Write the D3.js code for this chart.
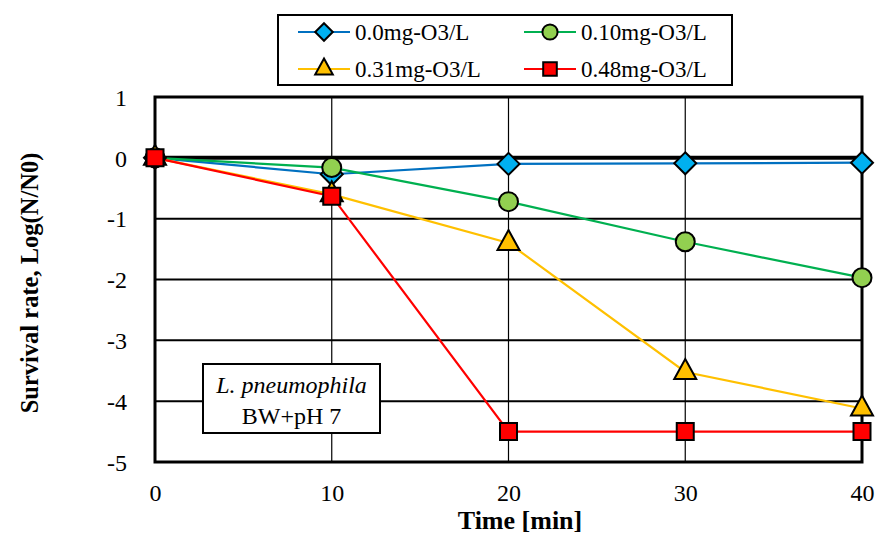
<!DOCTYPE html>
<html>
<head>
<meta charset="utf-8">
<script src="https://cdn.jsdelivr.net/npm/d3@7"></script>
<style>
  body { margin: 0; background: #fff; }
  text { font-family: "Liberation Serif", "Times New Roman", serif; }
</style>
</head>
<body>
<div id="chart"></div>
<script>
// data
const times = [0, 10, 20, 30, 40];
const s00 = [0, -0.27, -0.10, -0.09, -0.08];
const s10 = [0, -0.16, -0.72, -1.38, -1.97];
const s31 = [0, -0.60, -1.40, -3.52, -4.12];
const s48 = [0, -0.63, -4.50, -4.50, -4.50];
const yTicks = [1, 0, -1, -2, -3, -4, -5];
const xTicks = [0, 10, 20, 30, 40];

const series = [
  { name: "0.0mg-O3/L", values: s00, line: "#0070C0", fill: "#00B0F0", shape: "diamond" },
  { name: "0.10mg-O3/L", values: s10, line: "#00B050", fill: "#92D050", shape: "circle" },
  { name: "0.31mg-O3/L", values: s31, line: "#FFC000", fill: "#FFC000", shape: "triangle" },
  { name: "0.48mg-O3/L", values: s48, line: "#FF0000", fill: "#FF0000", shape: "square" }
];

const width = 876, height = 536;
const svg = d3.select("#chart").append("svg")
  .attr("width", width)
  .attr("height", height);

const x = d3.scaleLinear().domain([0, 40]).range([155, 862]);
const y = d3.scaleLinear().domain([-5, 1]).range([462, 97]);

// horizontal grid lines
svg.selectAll(".hgrid")
  .data(yTicks.filter(d => d !== 0 && d !== 1 && d !== -5))
  .join("line")
    .attr("x1", x(0)).attr("x2", x(40))
    .attr("y1", d => y(d)).attr("y2", d => y(d))
    .attr("stroke", "#000").attr("stroke-width", 2);

// vertical grid lines
svg.selectAll(".vgrid")
  .data(xTicks.slice(1, -1))
  .join("line")
    .attr("x1", d => x(d)).attr("x2", d => x(d))
    .attr("y1", y(1)).attr("y2", y(-5))
    .attr("stroke", "#000").attr("stroke-width", 1.2);

// plot border
svg.append("rect")
  .attr("x", x(0)).attr("y", y(1))
  .attr("width", x(40) - x(0)).attr("height", y(-5) - y(1))
  .attr("fill", "none").attr("stroke", "#000").attr("stroke-width", 3);

// horizontal axis at zero
svg.append("line")
  .attr("x1", x(0)).attr("x2", x(40))
  .attr("y1", y(0)).attr("y2", y(0))
  .attr("stroke", "#000").attr("stroke-width", 4);

// y tick labels
const yAxis = svg.append("g")
  .attr("transform", `translate(${x(0) - 28},0)`)
  .call(d3.axisLeft(y).tickValues(yTicks).tickSize(0).tickFormat(d => String(d)));
yAxis.select(".domain").remove();
yAxis.selectAll("text")
  .attr("x", 0)
  .attr("dy", "0.34em")
  .style("font-family", "Liberation Serif")
  .style("font-size", "24px")
  .attr("fill", "#000");

// x tick labels
const xAxis = svg.append("g")
  .attr("transform", `translate(0,${y(-5)})`)
  .call(d3.axisBottom(x).tickValues(xTicks).tickSize(0).tickFormat(d => String(d)));
xAxis.select(".domain").remove();
xAxis.selectAll("text")
  .attr("y", 39)
  .attr("dy", 0)
  .style("font-family", "Liberation Serif")
  .style("font-size", "24px")
  .attr("fill", "#000");

// axis titles
svg.append("text")
  .attr("transform", "translate(38,283) rotate(-90)")
  .attr("text-anchor", "middle")
  .style("font-size", "24.5px")
  .style("font-weight", "bold")
  .text("Survival rate, Log(N/N0)");

svg.append("text")
  .attr("x", 520).attr("y", 529)
  .attr("text-anchor", "middle")
  .style("font-size", "26px")
  .style("font-weight", "bold")
  .text("Time [min]");

// annotation box
const note = svg.append("g");
note.append("rect")
  .attr("x", 203).attr("y", 364).attr("width", 177).attr("height", 69)
  .attr("fill", "#fff").attr("stroke", "#000").attr("stroke-width", 2);
note.append("text")
  .attr("x", 291.5).attr("y", 393)
  .attr("text-anchor", "middle")
  .style("font-size", "24px").style("font-style", "italic")
  .text("L. pneumophila");
note.append("text")
  .attr("x", 291.5).attr("y", 424)
  .attr("text-anchor", "middle")
  .style("font-size", "24px")
  .text("BW+pH 7");

// marker path builder
function marker(shape) {
  switch (shape) {
    case "diamond": return "M0,-11L11,0L0,11L-11,0Z";
    case "circle": return d3.symbol(d3.symbolCircle, Math.PI * 9.5 * 9.5)();
    case "triangle": return "M0,-13L11,7L-11,7Z";
    default: return "M-8.5,-8.5H8.5V8.5H-8.5Z";
  }
}

const line = d3.line()
  .x((d, i) => x(times[i]))
  .y(d => y(d));

// lines
series.forEach(s => {
  svg.append("path")
    .datum(s.values)
    .attr("d", line)
    .attr("fill", "none")
    .attr("stroke", s.line)
    .attr("stroke-width", 2.2);
});

// markers
series.forEach(s => {
  svg.append("g").selectAll("path")
    .data(s.values)
    .join("path")
      .attr("transform", (d, i) => `translate(${x(times[i])},${y(d)})`)
      .attr("d", marker(s.shape))
      .attr("fill", s.fill)
      .attr("stroke", "#000")
      .attr("stroke-width", 2);
});

// legend
const legend = svg.append("g");
legend.append("rect")
  .attr("x", 278).attr("y", 15).attr("width", 454).attr("height", 70)
  .attr("fill", "#fff").attr("stroke", "#000").attr("stroke-width", 2);

const legendPos = [[298, 32], [524, 32], [298, 69], [524, 69]];
series.forEach((s, i) => {
  const [lx, ly] = legendPos[i];
  const g = legend.append("g").attr("transform", `translate(${lx},${ly})`);
  g.append("line")
    .attr("x1", 0).attr("x2", 52)
    .attr("stroke", s.line).attr("stroke-width", 2.2);
  g.append("path")
    .attr("transform", "translate(26,0) scale(0.8)")
    .attr("d", marker(s.shape))
    .attr("fill", s.fill)
    .attr("stroke", "#000")
    .attr("stroke-width", 2.5);
  g.append("text")
    .attr("x", 57).attr("y", 8)
    .style("font-size", "23px")
    .text(s.name);
});
</script>
</body>
</html>
